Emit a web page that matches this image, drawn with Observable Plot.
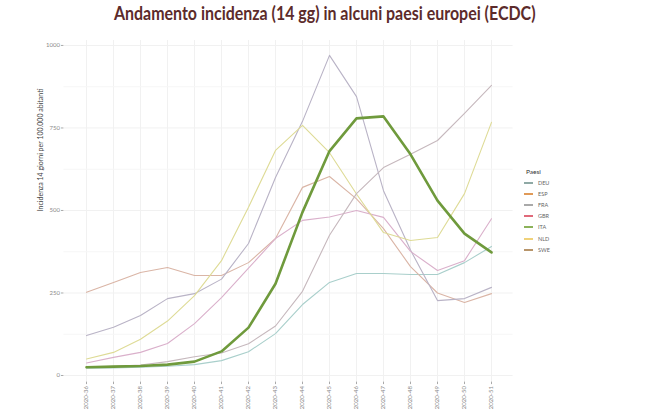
<!DOCTYPE html>
<html>
<head>
<meta charset="utf-8">
<script src="https://cdn.jsdelivr.net/npm/d3@7"></script>
<script src="https://cdn.jsdelivr.net/npm/@observablehq/plot@0.6"></script>
<style>
  body { margin: 0; background: #ffffff; font-family: Lato, "Open Sans", sans-serif; }
  #wrap { position: relative; width: 650px; height: 411px; overflow: hidden; background: #fff; }
  #title { height: 36px; box-sizing: border-box; padding-top: 4px; text-align: center; white-space: nowrap; }
  #title span { display: inline-block; font-size: 18px; line-height: 18px; font-weight: 700; color: #5c2b2b; transform-origin: center; }
  #chart svg { display: block; }
  #legend { position: absolute; left: 524px; top: 166px; font-family: Lato, sans-serif; }
  #legend .ttl { font-size: 6.5px; color: #333; height: 11px; line-height: 11px; margin-left: 2px; }
  #legend .item { height: 11.2px; display: flex; align-items: center; }
  #legend .key { width: 9px; height: 2px; margin-right: 5px; }
  #legend .lab { font-size: 5.5px; color: #666; }
</style>
</head>
<body>
<div id="wrap">
  <div id="title"><span id="ttext">Andamento incidenza (14 gg) in alcuni paesi europei (ECDC)</span></div>
  <div id="chart"></div>
  <div id="legend"></div>
</div>
<script>
// ---- data ----
const weeks = ["2020-36","2020-37","2020-38","2020-39","2020-40","2020-41","2020-42","2020-43",
               "2020-44","2020-45","2020-46","2020-47","2020-48","2020-49","2020-50","2020-51"];
const countries = ["DEU","ESP","FRA","GBR","ITA","NLD","SWE"];
const DEU = [22, 23, 25, 28, 33, 45, 72, 127, 215, 282, 309, 309, 306, 306, 342, 391];
const ESP = [252, 282, 312, 327, 303, 303, 342, 415, 570, 603, 535, 445, 330, 250, 221, 248];
const FRA = [121, 146, 182, 233, 248, 292, 400, 600, 770, 970, 845, 560, 380, 227, 233, 267];
const GBR = [38, 55, 70, 97, 157, 236, 325, 415, 470, 480, 500, 479, 376, 318, 348, 475];
const ITA = [25, 27, 29, 33, 42, 73, 145, 278, 495, 680, 779, 785, 670, 530, 430, 373];
const NLD = [50, 70, 110, 165, 242, 348, 510, 682, 758, 675, 550, 433, 409, 418, 551, 767];
const SWE = [25, 28, 32, 42, 57, 68, 96, 150, 255, 425, 551, 630, 670, 712, 794, 879];
const yTicks = [0, 250, 500, 750, 1000];
const yMinor = [125, 375, 625, 875];
const legendTitle = "Paesi";
const yLabel = "Incidenza 14 giorni per 100.000 abitanti";
const legendColors = ["#8fa9a5", "#e09a58", "#a9a9a9", "#e06a7a", "#8cb25a", "#f0d27a", "#b8956a"];
const lineColors   = ["#a9cfcb", "#dab5a6", "#b9b3c6", "#dab0cb", "#6f9a3c", "#dedb96", "#c6b8bd"];

const seriesMap = {DEU, ESP, FRA, GBR, ITA, NLD, SWE};
const data = countries.flatMap(c => weeks.map((w, i) => ({country: c, week: w, value: seriesMap[c][i]})));

const chart = Plot.plot({
  width: 650,
  height: 375,
  marginLeft: 63.4,
  marginRight: 137.4,
  marginTop: 4,
  marginBottom: 29.4,
  style: {fontFamily: "Lato, sans-serif", background: "transparent"},
  x: {type: "point", domain: weeks, padding: 0.6},
  y: {domain: [-20, 1015]},
  color: {domain: countries, range: lineColors},
  marks: [
    Plot.gridX(weeks, {stroke: "#f1f1f1", strokeOpacity: 1}),
    Plot.gridY(yMinor, {stroke: "#f6f6f6", strokeOpacity: 1}),
    Plot.gridY(yTicks, {stroke: "#f1f1f1", strokeOpacity: 1}),
    Plot.axisY(yTicks, {tickSize: 2.5, tickPadding: 1.5, fontSize: 6, fill: "#8a8a8a", stroke: "#aaa", label: null, tickFormat: d => String(d)}),
    Plot.axisX({tickRotate: -90, tickSize: 2.5, tickPadding: 1.5, fontSize: 6, fill: "#8a8a8a", stroke: "#aaa", label: null}),
    Plot.text([yLabel], {frameAnchor: "left", rotate: -90, dx: -23, fontSize: 7, fill: "#444"}),
    Plot.line(data.filter(d => d.country !== "ITA"), {x: "week", y: "value", z: "country", stroke: "country", strokeWidth: 1.1}),
    Plot.line(data.filter(d => d.country === "ITA"), {x: "week", y: "value", stroke: "country", strokeWidth: 2.6, strokeLinejoin: "round"})
  ]
});
document.getElementById("chart").appendChild(chart);

// legend
const leg = document.getElementById("legend");
const t = document.createElement("div"); t.className = "ttl"; t.textContent = legendTitle; leg.appendChild(t);
countries.forEach((c, i) => {
  const it = document.createElement("div"); it.className = "item";
  const k = document.createElement("div"); k.className = "key"; k.style.background = legendColors[i];
  const l = document.createElement("div"); l.className = "lab"; l.textContent = c;
  it.appendChild(k); it.appendChild(l); leg.appendChild(it);
});

// fit title width
const tt = document.getElementById("ttext");
const w = tt.offsetWidth;
if (w > 0) tt.style.transform = `scaleX(${422 / w})`;
</script>
</body>
</html>
